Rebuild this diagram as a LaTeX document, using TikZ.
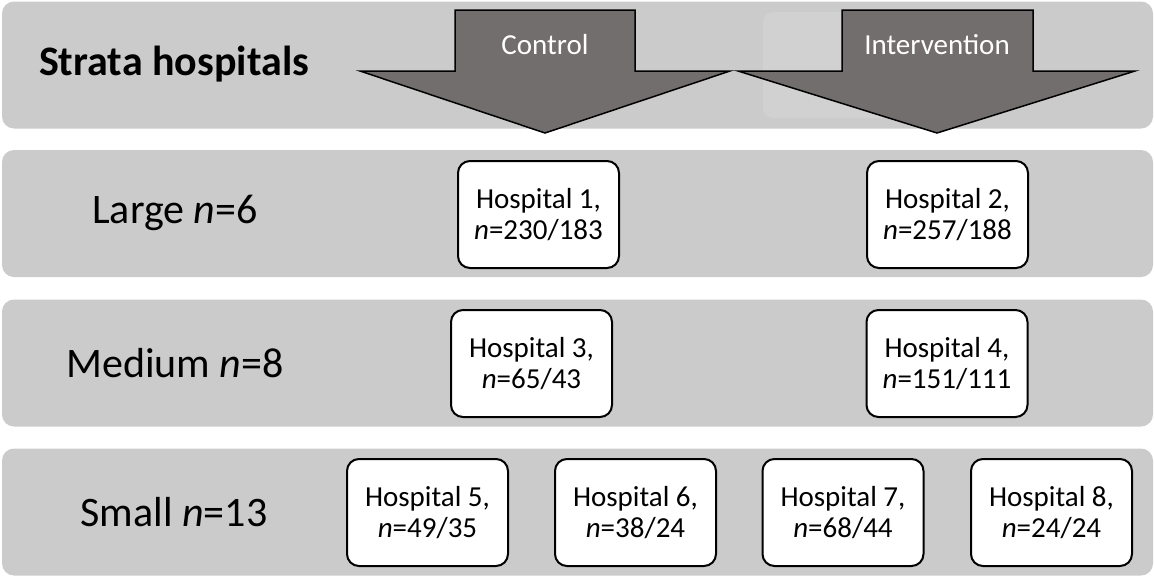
\documentclass[tikz,border=0pt]{standalone}
\usepackage{fontspec}
\setmainfont{Carlito}
\definecolor{bandgray}{HTML}{CBCBCB}
\definecolor{lightrect}{HTML}{D1D1D1}
\definecolor{arrowgray}{HTML}{736E6E}
\begin{document}
\begin{tikzpicture}[x=1pt,y=-1pt,
  bandbox/.style={fill=bandgray, draw=none, rounded corners=12pt, minimum width=1151pt, minimum height=127pt, inner sep=0pt},
  hosp/.style={draw=black, fill=white, line width=2pt, rounded corners=12pt, minimum width=161pt, minimum height=107pt, inner sep=0pt, align=center, font=\fontsize{29}{31}\selectfont},
  rowlabel/.style={font=\fontsize{42}{48}\selectfont, inner sep=0pt},
  bigarrow/.style={fill=arrowgray, draw=black, line width=1.5pt, line join=miter},
  armlabel/.style={text=white, font=\fontsize{29}{33}\selectfont, inner sep=0pt}]
\useasboundingbox (0,0) rectangle (1154,576);
% bands
\node[bandbox] (b1) at (577.5,65) {};
\node[bandbox] (b2) at (577.5,213.5) {};
\node[bandbox] (b3) at (577.5,363) {};
\node[bandbox] (b4) at (577.5,512) {};
% faint lighter panel
\fill[lightrect, rounded corners=10pt] (763,12) rectangle (940,118);
% arrows
\draw[bigarrow] (455,10) -- (635,10) -- (635,71) -- (730,71) -- (545,133) -- (360,71) -- (455,71) -- cycle;
\draw[bigarrow] (842,10) -- (1033,10) -- (1033,71) -- (1135,71) -- (937,133) -- (738,71) -- (842,71) -- cycle;
\node[armlabel] (ctl) at (545,45) {Control};
\node[armlabel] (int) at (937,45) {Intervention};
% row labels
\node[rowlabel] (title) at (174,64) {\textbf{Strata hospitals}};
\node[rowlabel] (large) at (175,213) {Large \textit{n}=6};
\node[rowlabel] (medium) at (175,363) {Medium \textit{n}=8};
\node[rowlabel] (small) at (174,512) {Small \textit{n}=13};
% hospitals
\node[hosp] (h1) at (538.5,214.5) {Hospital 1,\\\textit{n}=230/183};
\node[hosp] (h2) at (947.5,214.5) {Hospital 2,\\\textit{n}=257/188};
\node[hosp] (h3) at (531.5,363.5) {Hospital 3,\\\textit{n}=65/43};
\node[hosp] (h4) at (947,363.5) {Hospital 4,\\\textit{n}=151/111};
\node[hosp] (h5) at (427.5,512.5) {Hospital 5,\\\textit{n}=49/35};
\node[hosp] (h6) at (635.5,512.5) {Hospital 6,\\\textit{n}=38/24};
\node[hosp] (h7) at (843,512.5) {Hospital 7,\\\textit{n}=68/44};
\node[hosp] (h8) at (1051.5,512.5) {Hospital 8,\\\textit{n}=24/24};
\end{tikzpicture}
\end{document}
